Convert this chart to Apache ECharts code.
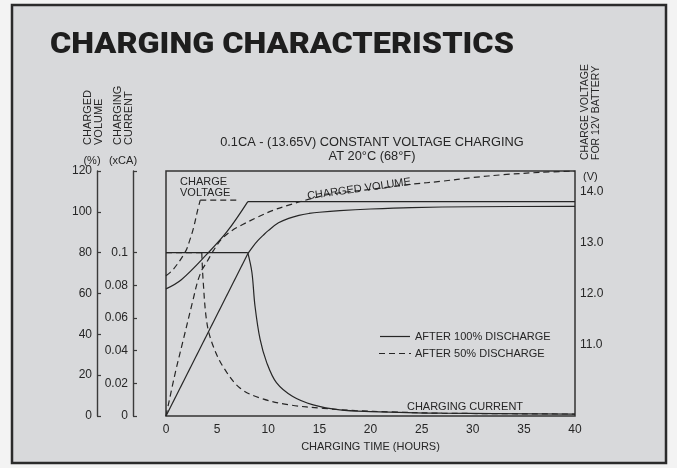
<!DOCTYPE html>
<html><head><meta charset="utf-8">
<script src="https://cdn.jsdelivr.net/npm/echarts@6/dist/echarts.min.js"></script>
<style>html,body{margin:0;padding:0;background:#f3f3f3;}#c{width:677px;height:468px;}</style>
</head><body><div id="c"></div>
<script>
// ---- data ----
const xTicks = [0, 5, 10, 15, 20, 25, 30, 35, 40];
const volumeTicks = [0, 20, 40, 60, 80, 100, 120];
const currentTicks = [0, 0.02, 0.04, 0.06, 0.08, 0.1];
const voltageTicks = [11, 12, 13, 14];

// Charged volume (%)
const volSolidT = [0, 8, 8.5, 9, 9.5, 10, 11, 12, 13, 14, 15, 17, 20, 24, 30, 40];
const volSolid  = [0, 79.5, 83, 86, 88.5, 90.8, 94.6, 96.8, 98.3, 99.2, 99.8, 100.6, 101.4, 102.1, 102.5, 102.7];
const volDashT  = [0, 0.9, 1.7, 2.6, 3.1, 3.5, 4, 4.7, 5.5, 6.5, 7.5, 9, 10.5, 12, 14, 16, 20, 24, 27, 30, 33, 36.5, 40];
const volDash   = [0, 21, 37.5, 56, 66, 71.5, 75.5, 81.5, 87, 91, 93.8, 97.5, 100.8, 103.3, 106.2, 108.6, 111, 113.5, 115, 116.8, 118.2, 119.3, 120];

// Charging current (xCA)
const curSolidT = [0, 8, 8.4, 8.7, 9.2, 9.85, 10.8, 12.4, 14.4, 17, 20, 27, 40];
const curSolid  = [0.1, 0.1, 0.088, 0.0675, 0.047, 0.0327, 0.0204, 0.0119, 0.0068, 0.0037, 0.0027, 0.0017, 0.0012];
const curDashT  = [0, 3.5, 3.62, 4, 4.6, 5.6, 7.2, 9.2, 12.1, 15.4, 18.5, 22, 27, 40];
const curDash   = [0.1, 0.1, 0.084, 0.057, 0.043, 0.03, 0.0173, 0.011, 0.0068, 0.0047, 0.0033, 0.0025, 0.0017, 0.0012];

// Charge voltage (V)
const vSolidT = [0, 1.5, 4, 6, 8, 40];
const vSolid  = [12.09, 12.27, 12.77, 13.22, 13.8, 13.8];
const vDashT  = [0, 0.7, 1.9, 2.35, 2.7, 3.1, 3.35, 7];
const vDash   = [12.35, 12.47, 12.82, 13.06, 13.29, 13.64, 13.83, 13.83];

// index of the sharp corner (knee) in each curve
const knee = { volSolid: 1, volDash: 5, curSolid: 1, curDash: 1, vSolid: 4, vDash: 6 };

const N100 = 'AFTER 100% DISCHARGE';
const N50 = 'AFTER 50% DISCHARGE';

const pairs = (t, v) => t.map((x, i) => [x, v[i]]);
const INK = '#262626';
const FONT = '"Liberation Sans", Arial, sans-serif';

function line(name, yIdx, data, dashed, smooth) {
  return {
    name, type: 'line', xAxisIndex: 0, yAxisIndex: yIdx,
    data, symbol: 'none', showSymbol: false,
    smooth: smooth ? 0.35 : false, silent: true,
    lineStyle: { color: INK, width: 1.2, type: dashed ? [6, 4] : 'solid' },
    itemStyle: { color: INK }, z: 3
  };
}
// split a curve at its knee so that the corner stays sharp
function curve(name, yIdx, t, v, k, dashed, smoothA, smoothB) {
  const p = pairs(t, v);
  return [line(name, yIdx, p.slice(0, k + 1), dashed, smoothA), line(name, yIdx, p.slice(k), dashed, smoothB)];
}

const chart = echarts.init(document.getElementById('c'), null, { renderer: 'canvas' });
const txt = (x, y, text, extra) => ({ type: 'text', x, y, z: 20, style: Object.assign({ text, fill: INK, font: '11px ' + FONT }, extra || {}) });
const seg = (x1, y1, x2, y2, dash) => ({ type: 'line', z: 20, shape: { x1, y1, x2, y2 }, style: { stroke: INK, lineWidth: 1.2, lineDash: dash ? [6, 4] : null } });

chart.setOption({
  backgroundColor: 'transparent',
  animation: false,
  textStyle: { fontFamily: FONT, color: INK },
  grid: { left: 166, top: 171, width: 409, height: 245, show: true, borderColor: '#333', borderWidth: 1.5, backgroundColor: 'transparent' },
  xAxis: {
    type: 'value', min: 0, max: 40, interval: 5,
    name: 'CHARGING TIME (HOURS)', nameLocation: 'middle', nameGap: 25,
    nameTextStyle: { fontSize: 11, color: INK },
    axisLine: { show: false }, axisTick: { show: false }, splitLine: { show: false },
    axisLabel: { fontSize: 12, color: INK, margin: 8, customValues: xTicks }
  },
  yAxis: [
    {
      type: 'value', min: 0, max: 120, interval: 20, position: 'left', offset: 69,
      axisLine: { show: true, onZero: false, lineStyle: { color: '#3a3a3a', width: 1.4 } },
      axisTick: { show: true, inside: true, length: 4, lineStyle: { color: '#3a3a3a', width: 1.2 } },
      axisLabel: { fontSize: 12, color: INK, margin: 5, customValues: volumeTicks },
      splitLine: { show: false }
    },
    {
      type: 'value', min: 0, max: 0.15, position: 'left', offset: 33,
      axisLine: { show: true, onZero: false, lineStyle: { color: '#3a3a3a', width: 1.4 } },
      axisTick: { show: true, inside: true, length: 4, lineStyle: { color: '#3a3a3a', width: 1.2 }, customValues: [0, 0.02, 0.04, 0.06, 0.08, 0.1, 0.15] },
      axisLabel: { fontSize: 12, color: INK, margin: 5, customValues: currentTicks, formatter: v => String(v) },
      splitLine: { show: false }
    },
    {
      type: 'value', min: 9.6, max: 14.4, position: 'right',
      axisLine: { show: false, onZero: false }, axisTick: { show: false }, splitLine: { show: false },
      axisLabel: { fontSize: 12, color: INK, margin: 5, customValues: voltageTicks, formatter: v => v.toFixed(1) }
    }
  ],
  series: [].concat(
    curve(N100, 0, volSolidT, volSolid, knee.volSolid, false, false, true),
    curve(N50, 0, volDashT, volDash, knee.volDash, true, true, true),
    curve(N100, 1, curSolidT, curSolid, knee.curSolid, false, false, true),
    curve(N50, 1, curDashT, curDash, knee.curDash, true, false, true),
    curve(N100, 2, vSolidT, vSolid, knee.vSolid, false, true, false),
    curve(N50, 2, vDashT, vDash, knee.vDash, true, true, false)
  ),
  graphic: [
    { type: 'rect', z: -10, shape: { x: 12, y: 5, width: 654, height: 458 }, style: { fill: '#d8d9db', stroke: '#2b2b2b', lineWidth: 2.5 } },
    Object.assign(txt(50, 30, 'CHARGING CHARACTERISTICS', { font: '900 30px Roboto, "Liberation Sans", sans-serif', fill: '#1e1e1e' }), { scaleX: 1.08, originX: 0, originY: 0 }),
    txt(372, 135.5, '0.1CA - (13.65V) CONSTANT VOLTAGE CHARGING', { font: '12.8px ' + FONT, textAlign: 'center' }),
    txt(372, 149.5, 'AT 20°C (68°F)', { font: '12.8px ' + FONT, textAlign: 'center' }),
    Object.assign(txt(83, 145, 'CHARGED\nVOLUME', { lineHeight: 10.5, textVerticalAlign: 'top' }), { rotation: Math.PI / 2 }),
    Object.assign(txt(113, 145, 'CHARGING\nCURRENT', { lineHeight: 10.5, textVerticalAlign: 'top' }), { rotation: Math.PI / 2 }),
    Object.assign(txt(580, 160, 'CHARGE VOLTAGE\nFOR 12V BATTERY', { font: '10.5px ' + FONT, lineHeight: 10.5, textVerticalAlign: 'top' }), { rotation: Math.PI / 2 }),
    txt(92, 155, '(%)', { textAlign: 'center' }),
    txt(123, 155, '(xCA)', { textAlign: 'center' }),
    txt(583, 171, '(V)'),
    txt(180, 176, 'CHARGE\nVOLTAGE', { lineHeight: 11.5 }),
    Object.assign(txt(359, 189, 'CHARGED VOLUME', { textAlign: 'center', textVerticalAlign: 'middle' }), { rotation: 0.14 }),
    txt(465, 407, 'CHARGING CURRENT', { textAlign: 'center', textVerticalAlign: 'middle' }),
    // legend
    seg(380, 336.5, 410, 336.5, false),
    txt(415, 336.5, N100, { textVerticalAlign: 'middle' }),
    seg(379, 353.5, 411, 353.5, true),
    txt(415, 353.5, N50, { textVerticalAlign: 'middle' })
  ]
});
</script></body></html>
